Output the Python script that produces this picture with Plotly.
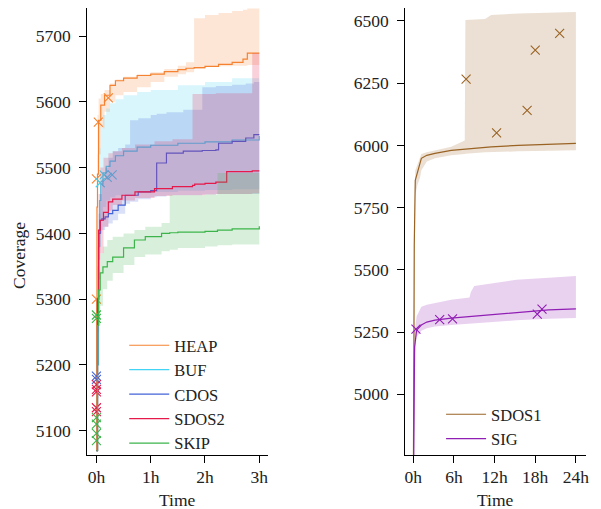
import plotly.graph_objects as go

# ---------------- data: left panel (hours) ----------------
heap_t = [0, 0.005, 0.01, 0.02, 0.04, 0.08, 0.15, 0.25, 0.35, 0.5, 0.75, 1.0, 1.25, 1.5, 1.65, 1.8, 2.0, 2.25, 2.5, 2.7, 2.78, 3.0]
heap_med = [5070, 5300, 5440, 5490, 5572, 5595, 5610, 5625, 5632, 5636, 5640, 5642, 5646, 5649, 5651, 5652, 5654, 5657, 5660, 5665, 5674, 5674]
heap_lo = [5070, 5200, 5380, 5470, 5520, 5560, 5585, 5600, 5610, 5615, 5622, 5630, 5638, 5642, 5645, 5650, 5653, 5654, 5655, 5655, 5656, 5656]
heap_hi = [5070, 5420, 5520, 5580, 5605, 5612, 5618, 5628, 5634, 5638, 5642, 5645, 5650, 5655, 5660, 5727, 5732, 5735, 5738, 5740, 5742, 5742]
heap_mk_t = [0.0, 0.0, 0.035, 0.22]
heap_mk_v = [5300, 5483, 5569, 5606]

buf_t = [0, 0.02, 0.04, 0.06, 0.08, 0.12, 0.18, 0.25, 0.35, 0.5, 0.75, 1.0, 1.5, 2.0, 2.5, 3.0]
buf_med = [5070, 5200, 5380, 5450, 5475, 5492, 5502, 5510, 5518, 5525, 5531, 5534, 5537, 5539, 5542, 5548]
buf_lo = [5070, 5150, 5300, 5380, 5420, 5440, 5450, 5455, 5458, 5460, 5462, 5463, 5465, 5466, 5467, 5468]
buf_hi = [5070, 5300, 5450, 5530, 5560, 5580, 5590, 5598, 5604, 5610, 5615, 5618, 5625, 5630, 5636, 5639]
buf_mk_t = [0.07, 0.14, 0.2, 0.29]
buf_mk_v = [5477, 5489, 5485, 5489]

cdos_t = [0, 0.02, 0.04, 0.07, 0.1, 0.16, 0.22, 0.3, 0.4, 0.53, 0.62, 0.77, 1.0, 1.11, 1.29, 1.6, 1.95, 2.2, 2.25, 2.5, 2.75, 2.9, 3.0]
cdos_med = [5070, 5300, 5400, 5420, 5422, 5425, 5430, 5435, 5443, 5458, 5458, 5463, 5465, 5507, 5522, 5525, 5526, 5527, 5537, 5540, 5545, 5550, 5550]
cdos_lo = [5070, 5250, 5360, 5400, 5405, 5410, 5415, 5420, 5430, 5445, 5448, 5452, 5455, 5456, 5458, 5458, 5459, 5460, 5460, 5460, 5460, 5460, 5460]
cdos_hi = [5070, 5350, 5430, 5460, 5480, 5500, 5515, 5525, 5530, 5535, 5572, 5575, 5580, 5582, 5584, 5588, 5622, 5624, 5624, 5626, 5628, 5630, 5630]
cdos_mk_t = [0.0, 0.0]
cdos_mk_v = [5183, 5178]

sdos2_t = [0, 0.02, 0.04, 0.07, 0.13, 0.22, 0.3, 0.47, 0.71, 1.07, 1.4, 1.77, 1.81, 2.0, 2.2, 2.4, 2.87, 3.0]
sdos2_med = [5070, 5300, 5405, 5420, 5432, 5448, 5452, 5458, 5463, 5468, 5471, 5473, 5475, 5476, 5478, 5494, 5495, 5495]
sdos2_lo = [5070, 5200, 5330, 5370, 5410, 5435, 5443, 5450, 5454, 5457, 5458, 5458, 5458, 5459, 5460, 5460, 5461, 5461]
sdos2_hi = [5070, 5380, 5460, 5500, 5515, 5522, 5525, 5530, 5535, 5540, 5543, 5612, 5612, 5612, 5613, 5613, 5674, 5676]
sdos2_mk_t = [0.0, 0.0, 0.0, 0.0, 0.0]
sdos2_mk_v = [5170, 5163, 5159, 5135, 5129]

skip_t = [0, 0.02, 0.04, 0.07, 0.12, 0.2, 0.3, 0.5, 0.7, 0.9, 1.2, 1.35, 1.5, 2.0, 2.23, 2.5, 3.0]
skip_med = [5070, 5260, 5314, 5340, 5349, 5357, 5364, 5378, 5390, 5395, 5400, 5401, 5402, 5403, 5405, 5407, 5411]
skip_lo = [5070, 5200, 5260, 5290, 5315, 5328, 5340, 5352, 5364, 5368, 5373, 5375, 5378, 5380, 5382, 5383, 5385]
skip_hi = [5070, 5300, 5345, 5370, 5380, 5390, 5395, 5400, 5405, 5410, 5416, 5458, 5458, 5459, 5492, 5492, 5492]
skip_mk_t = [0.0, 0.0, 0.0, 0.0, 0.0, 0.0]
skip_mk_v = [5276, 5271, 5120, 5110, 5096, 5085]

# ---------------- data: right panel (hours) ----------------
sdos1_t = [0, 0.15, 0.3, 0.6, 1.0, 1.2, 2, 3.2, 5.6, 7.6, 7.7, 10.6, 11.5, 15.5, 20, 24]
sdos1_med = [4500, 5600, 5860, 5890, 5927, 5948, 5960, 5968, 5980, 5985, 5986, 5992, 5994, 6000, 6004, 6008]
sdos1_lo = [4500, 5500, 5800, 5840, 5870, 5900, 5935, 5948, 5960, 5965, 5966, 5972, 5973, 5976, 5978, 5980]
sdos1_hi = [4500, 5700, 5899, 5920, 5952, 5965, 5972, 5980, 5995, 6020, 6504, 6508, 6524, 6530, 6534, 6536]
sdos1_mk_t = [7.8, 12.3, 16.8, 18.0, 21.6]
sdos1_mk_v = [6266, 6050, 6141, 6383, 6450]

sig_t = [0, 0.1, 0.2, 0.5, 1.2, 2.0, 3.2, 5.6, 8.3, 8.5, 9.0, 12.3, 15.2, 20, 24]
sig_med = [4500, 5000, 5190, 5258, 5278, 5290, 5298, 5306, 5312, 5313, 5314, 5320, 5326, 5339, 5343]
sig_lo = [4500, 4900, 5150, 5230, 5255, 5265, 5272, 5278, 5284, 5285, 5286, 5292, 5297, 5303, 5306]
sig_hi = [4500, 5100, 5250, 5313, 5352, 5360, 5366, 5380, 5389, 5411, 5435, 5448, 5460, 5468, 5475]
sig_mk_t = [0.4, 3.9, 5.8, 18.3, 19.0]
sig_mk_v = [5262, 5300, 5303, 5322, 5342]

left_ticks = [0, 1, 2, 3]
left_ticktext = ["0h", "1h", "2h", "3h"]
right_ticks = [0, 6, 12, 18, 24]
right_ticktext = ["0h", "6h", "12h", "18h", "24h"]

FONT = "Liberation Serif"
FS = 17.5
LFS = 16.5
TXT = '#222'

# the page body has an 8px margin: lay out in screen pixels and convert
OFF = 8
W, H = 601 - OFF, 509 - OFF


def sx(x):
    return (x - OFF) / W


def sy(y):
    return 1 - (y - OFF) / H


def rgba(h, a):
    h = h.lstrip('#')
    r, g, b = int(h[0:2], 16), int(h[2:4], 16), int(h[4:6], 16)
    return f"rgba({r},{g},{b},{a})"


fig = go.Figure()


def add_series(name, color, t, med, lo, hi, mk_t, mk_v, xa, ya, legend, shape):
    fig.add_trace(go.Scatter(x=t, y=lo, mode='lines', line=dict(width=0, shape=shape, color=color),
                             showlegend=False, hoverinfo='skip', xaxis=xa, yaxis=ya))
    fig.add_trace(go.Scatter(x=t, y=hi, mode='lines', line=dict(width=0, shape=shape, color=color),
                             fill='tonexty', fillcolor=rgba(color, 0.2),
                             showlegend=False, hoverinfo='skip', xaxis=xa, yaxis=ya))
    fig.add_trace(go.Scatter(x=t, y=med, mode='lines', name=name,
                             line=dict(width=1.2, shape=shape, color=color),
                             legend=legend, xaxis=xa, yaxis=ya))
    fig.add_trace(go.Scatter(x=mk_t, y=mk_v, mode='markers', showlegend=False,
                             marker=dict(symbol='x-thin', size=9, line=dict(width=1.1, color=color), color=color),
                             xaxis=xa, yaxis=ya))


add_series("HEAP", "#f58231", heap_t, heap_med, heap_lo, heap_hi, heap_mk_t, heap_mk_v, 'x', 'y', 'legend', 'hv')
add_series("BUF", "#42d4f4", buf_t, buf_med, buf_lo, buf_hi, buf_mk_t, buf_mk_v, 'x', 'y', 'legend', 'hv')
add_series("CDOS", "#4363d8", cdos_t, cdos_med, cdos_lo, cdos_hi, cdos_mk_t, cdos_mk_v, 'x', 'y', 'legend', 'hv')
add_series("SDOS2", "#e6194b", sdos2_t, sdos2_med, sdos2_lo, sdos2_hi, sdos2_mk_t, sdos2_mk_v, 'x', 'y', 'legend', 'hv')
add_series("SKIP", "#3cb44b", skip_t, skip_med, skip_lo, skip_hi, skip_mk_t, skip_mk_v, 'x', 'y', 'legend', 'hv')
add_series("SDOS1", "#9a6324", sdos1_t, sdos1_med, sdos1_lo, sdos1_hi, sdos1_mk_t, sdos1_mk_v, 'x2', 'y2', 'legend2', 'linear')
add_series("SIG", "#911eb4", sig_t, sig_med, sig_lo, sig_hi, sig_mk_t, sig_mk_v, 'x2', 'y2', 'legend2', 'linear')

axis_common = dict(showline=True, linecolor='black', linewidth=1.2, ticks='outside', ticklen=7,
                   tickwidth=1.2, tickcolor='black', showgrid=False, zeroline=False,
                   tickfont=dict(family=FONT, size=FS, color=TXT))

fig.update_layout(
    width=W, height=H,
    margin=dict(l=0, r=0, t=0, b=0),
    paper_bgcolor='white', plot_bgcolor='white',
    font=dict(family=FONT, size=FS, color=TXT),
    xaxis=dict(domain=[sx(87), sx(269)], range=[-0.165, 3.165], tickvals=left_ticks,
               ticktext=left_ticktext, anchor='y', ticklabelstandoff=-1, **axis_common),
    yaxis=dict(domain=[sy(455), 1], range=[5063.2, 5742.6], dtick=100, tick0=5000,
               anchor='x', ticklabelstandoff=5, **axis_common),
    xaxis2=dict(domain=[sx(407), sx(589)], range=[-1.17, 25.5], tickvals=right_ticks,
                ticktext=right_ticktext, anchor='y2', ticklabelstandoff=-1, **axis_common),
    yaxis2=dict(domain=[sy(455), 1], range=[4756, 6552], dtick=250, tick0=5000,
                anchor='x2', ticklabelstandoff=5, **axis_common),
    legend=dict(x=sx(124), y=sy(328), xanchor='left', yanchor='top', bgcolor='rgba(0,0,0,0)',
                traceorder='normal', itemwidth=40,
                font=dict(family=FONT, size=LFS, color=TXT), tracegroupgap=0),
    legend2=dict(x=sx(443), y=sy(397), xanchor='left', yanchor='top', bgcolor='rgba(0,0,0,0)',
                 traceorder='normal', itemwidth=40,
                 font=dict(family=FONT, size=LFS, color=TXT), tracegroupgap=0),
    annotations=[
        dict(text="Coverage", x=sx(18), y=sy(255), xref='paper', yref='paper', textangle=-90,
             xanchor='center', yanchor='middle',
             showarrow=False, font=dict(family=FONT, size=FS, color=TXT)),
        dict(text="Time", x=sx(178), y=sy(500), xref='paper', yref='paper',
             xanchor='center', yanchor='middle',
             showarrow=False, font=dict(family=FONT, size=FS, color=TXT)),
        dict(text="Time", x=sx(498), y=sy(500), xref='paper', yref='paper',
             xanchor='center', yanchor='middle',
             showarrow=False, font=dict(family=FONT, size=FS, color=TXT)),
    ],
)

fig.write_html("out.html")
